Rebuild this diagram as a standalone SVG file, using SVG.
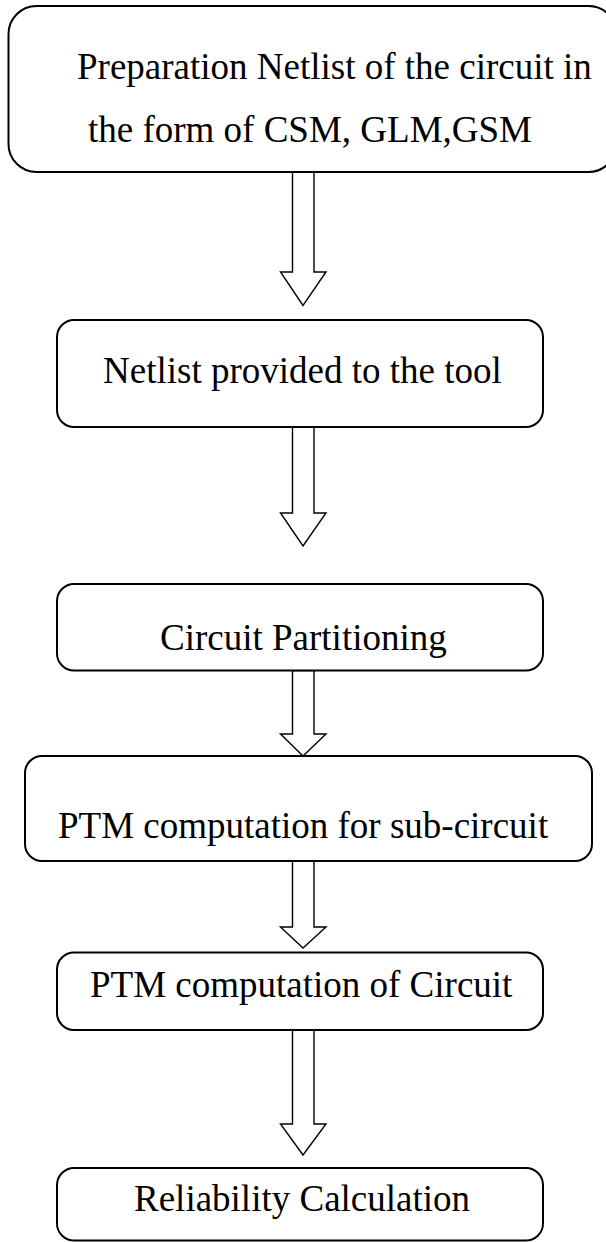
<svg xmlns="http://www.w3.org/2000/svg" width="606" height="1242" viewBox="0 0 606 1242">
<style>
.box{fill:#fff;stroke:#000;stroke-width:2}
.arr{fill:#fff;stroke:#000;stroke-width:1.4;stroke-linejoin:miter}
.t{font-family:"Liberation Serif","Times New Roman",serif;font-size:37px;fill:#000}
</style>
<rect width="606" height="1242" fill="#fff"/>
<g id="connectors">
<polygon class="arr" points="292.5,172 314,172 314,272 326,272 303,305.5 280.5,272 292.5,272"/>
<polygon class="arr" points="292.5,427 314,427 314,513 326,513 303,546 280.5,513 292.5,513"/>
<polygon class="arr" points="292.5,670.5 314,670.5 314,734 326,734 303,756 280.5,734 292.5,734"/>
<polygon class="arr" points="292.5,861 314,861 314,927 326,927 303,948 280.5,927 292.5,927"/>
<polygon class="arr" points="292.5,1030 314,1030 314,1124 326,1124 303,1155 280.5,1124 292.5,1124"/>
</g>
<g id="n1">
<rect class="box" x="8.5" y="6" width="608" height="166" rx="28"/>
<text class="t" x="77" y="79">Preparation Netlist of the circuit in</text>
<text class="t" x="88" y="141.5">the form of CSM, GLM,GSM</text>
</g>
<g id="n2">
<rect class="box" x="57" y="320" width="486" height="107" rx="17"/>
<text class="t" x="103" y="383">Netlist provided to the tool</text>
</g>
<g id="n3">
<rect class="box" x="57" y="584" width="486" height="86.5" rx="17"/>
<text class="t" x="160" y="650">Circuit Partitioning</text>
</g>
<g id="n4">
<rect class="box" x="25" y="756" width="567" height="105" rx="17"/>
<text class="t" x="58" y="837.5">PTM computation for sub-circuit</text>
</g>
<g id="n5">
<rect class="box" x="57" y="952.5" width="486" height="77.5" rx="17"/>
<text class="t" x="90" y="996.5">PTM computation of Circuit</text>
</g>
<g id="n6">
<rect class="box" x="57" y="1168" width="486" height="72.5" rx="17"/>
<text class="t" x="134" y="1211">Reliability Calculation</text>
</g>
</svg>
